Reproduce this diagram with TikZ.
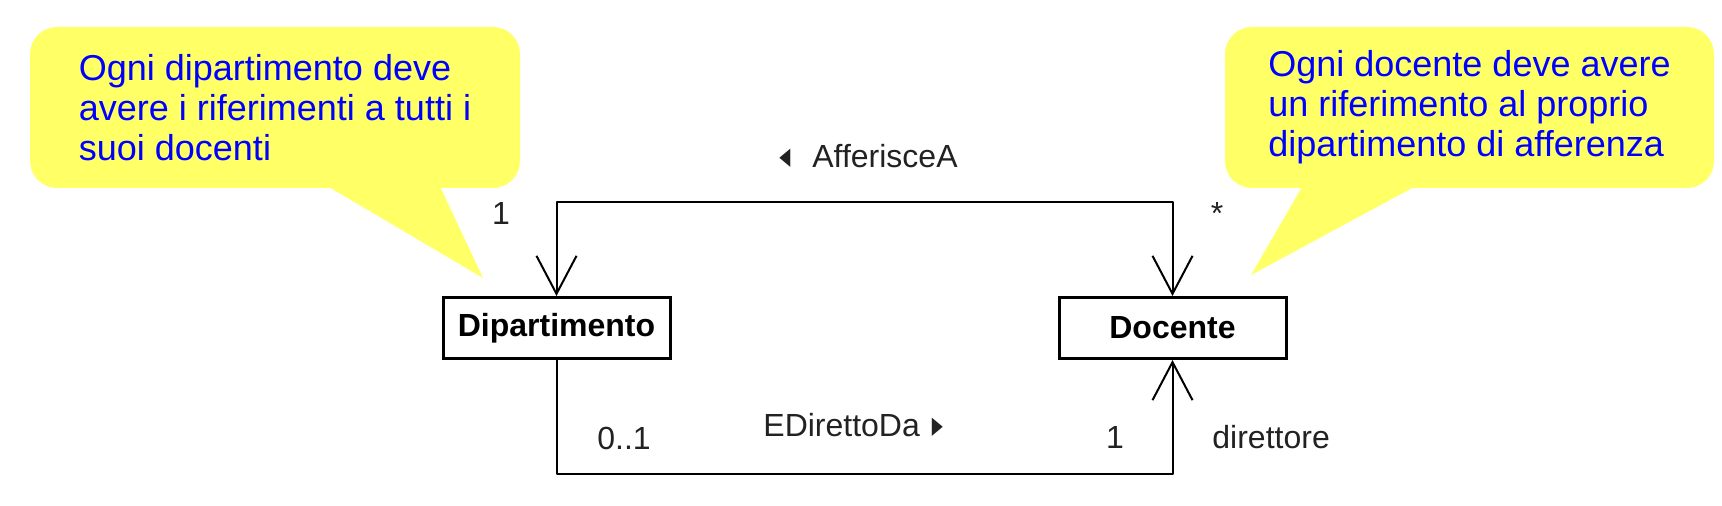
\documentclass[tikz,border=0pt]{standalone}
\usepackage{fontspec}
\setmainfont{Liberation Sans}
\newfontfamily\symfont{DejaVu Sans}
\usepackage{xcolor}
\usepackage{graphicx}
\usepackage{tikz}
\usetikzlibrary{arrows.meta,positioning,calc}
\definecolor{notefill}{HTML}{FFFF66}
\definecolor{noteblue}{HTML}{0000FF}
\definecolor{labelgrey}{HTML}{222222}
\newcommand{\navleft}{{\symfont\fontsize{12pt}{12pt}\selectfont\raisebox{1.5pt}{\scalebox{0.6}[1]{◀}}}}
\newcommand{\navright}{{\symfont\fontsize{12pt}{12pt}\selectfont\raisebox{1.5pt}{\scalebox{0.6}[1]{▶}}}}
\tikzset{
  classbox/.style={
    rectangle, draw=black, line width=1.5pt, fill=white,
    minimum width=113.5pt, minimum height=30.5pt,
    font=\fontsize{16pt}{18pt}\selectfont\bfseries, inner sep=0pt
  },
  notebox/.style={
    rectangle, fill=notefill, rounded corners=13.5pt,
    minimum width=#1, minimum height=80.5pt,
    text=noteblue, align=left, inner xsep=0pt,
    font=\fontsize{18pt}{20pt}\selectfont
  },
  notebox/.default=245pt,
  assocline/.style={draw=black, line width=1pt, line join=round},
  navtip/.tip={Straight Barb[length=19pt, width=20pt]},
  rolelabel/.style={text=labelgrey, inner sep=0pt,
    font=\fontsize{16pt}{18pt}\selectfont},
}

\begin{document}
\begin{tikzpicture}[x=0.5pt, y=-0.5pt]
  \useasboundingbox (0,0) rectangle (1722,506);
  \node[notebox] (depnote) at (275,107.5)
    {Ogni dipartimento deve\\avere i riferimenti a tutti i\\suoi docenti};
  \coordinate (depnotetip) at (483,278);
  \fill[notefill] (317,180) -- (depnotetip) -- (437,180) -- cycle;
  \node[notebox=244.5pt] (docnote) at (1469.5,107.5)
    {Ogni docente deve avere\\un riferimento al proprio\\dipartimento di afferenza};
  \coordinate (docnotetip) at (1251,275);
  \fill[notefill] (1306,180) -- (docnotetip) -- (1427,180) -- cycle;

  \node[classbox] (dip) at (556.5,328) {Dipartimento};
  \node[classbox, right=193pt of dip] (doc) {Docente};

  \draw[assocline, navtip-navtip] (dip.north) -- ++(0,-94) -| (doc.north);
  \draw[assocline, -navtip] (dip.south) -- ++(0,114) -| (doc.south);

  \node[rolelabel, anchor=base] (afferdip) at (501,225) {1};
  \node[rolelabel, anchor=base] (afferdoc) at (1217,225) {*};
  \node[rolelabel, anchor=base east] (afferlbl) at (958,168) {\navleft\hspace{11pt}AfferisceA};
  \node[rolelabel, anchor=base west] (direttolbl) at (763,437) {EDirettoDa\hspace{6pt}\navright};
  \node[rolelabel, anchor=base west] (direttodip) at (597,450) {0..1};
  \node[rolelabel, anchor=base] (direttodoc) at (1115,449) {1};
  \node[rolelabel, anchor=base west] (direttorole) at (1212,449) {direttore};
\end{tikzpicture}
\end{document}
